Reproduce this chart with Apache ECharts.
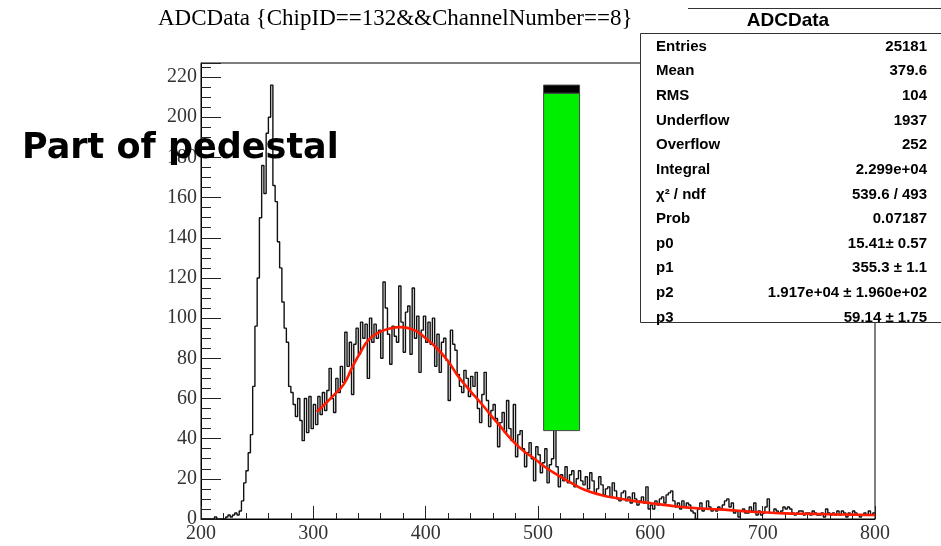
<!DOCTYPE html>
<html>
<head>
<meta charset="utf-8">
<script src="https://cdn.jsdelivr.net/npm/echarts@6/dist/echarts.min.js"></script>
<style>
  html, body { margin: 0; padding: 0; background: #fff; }
  #chart { width: 941px; height: 546px; }
</style>
</head>
<body>
<div id="chart"></div>
<script>
// histogram: 2 ADC wide bins from 200 to 800
const binStart = 200;
const binWidth = 2;
const counts = [
  0, 0, 0, 0, 0, 0, 1, 0, 0, 0,          // 200-218
  0, 1, 2, 1, 2, 3, 2, 4, 9, 18,         // 220-238
  24, 33, 42, 66, 96, 120, 150, 176, 162, 192,
  200, 216, 166, 158, 138, 125, 108, 95, 88, 66,
  63, 57, 51, 60, 49, 39, 60, 43, 61, 45,
  57, 47, 61, 52, 63, 54, 64, 75, 60, 53, // 300-318
  70, 63, 76, 68, 93, 76, 88, 62, 87, 95,
  82, 98, 90, 97, 70, 100, 88, 97, 90, 94,
  80, 118, 105, 92, 77, 96, 91, 88, 116, 98,
  83, 103, 106, 82, 115, 90, 101, 73, 94, 101,
  88, 98, 87, 100, 76, 92, 73, 88, 90, 79, // 400-418
  59, 94, 87, 84, 72, 66, 63, 74, 70, 61,
  71, 66, 73, 55, 48, 62, 73, 59, 46, 54,
  57, 50, 36, 48, 53, 43, 59, 45, 39, 57,
  31, 42, 44, 35, 26, 33, 38, 30, 19, 36,
  32, 23, 28, 35, 18, 27, 30, 46, 26, 16, // 500-518
  22, 19, 26, 18, 22, 24, 16, 20, 24, 19,
  17, 21, 15, 23, 19, 13, 15, 21, 17, 12,
  15, 16, 11, 18, 14, 10, 9, 13, 14, 9,
  11, 8, 13, 10, 7, 9, 11, 8, 16, 5,
  7, 5, 9, 7, 10, 11, 8, 12, 13, 14,      // 600-618
  9, 6, 8, 5, 9, 6, 8, 7, 4, 3,
  0, 5, 8, 4, 5, 9, 6, 4, 5, 4,
  6, 5, 7, 9, 10, 6, 8, 3, 4, 1,
  4, 5, 3, 3, 6, 4, 8, 2, 4, 2,
  3, 6, 10, 3, 3, 5, 4, 3, 4, 6,          // 700-718
  5, 6, 5, 3, 2, 3, 4, 4, 2, 3,
  3, 2, 4, 3, 2, 2, 3, 1, 5, 3,
  2, 3, 2, 4, 2, 4, 3, 1, 3, 2,
  4, 3, 2, 1, 2, 3, 2, 4, 2, 3
];

// fitted curve
const fitX = [303, 310, 318, 327, 335, 342, 349, 358, 368, 377, 388, 400, 410, 420, 429, 437,
  444, 451, 459, 466, 474, 481, 488, 497, 506, 515, 528, 542, 556, 572, 586, 601, 616, 631,
  646, 661, 676, 690, 705, 720, 735, 750, 765, 780, 795, 800];
const fitY = [53.4, 57, 61.5, 67, 76, 83, 89, 92.8, 94.8, 95.5, 94.5, 90, 85, 78.5, 71, 65.5,
  61, 56.5, 51, 46.5, 41, 37, 33.5, 30, 26, 22.7, 18.5, 14.4, 12, 10.2, 8.9, 7.8, 6.8, 5.8,
  5.2, 4.8, 4.2, 3.6, 3.2, 2.8, 2.6, 2.5, 2.3, 2.2, 2.0, 2.0];

// green overlay box and its dark cap: [x0, y0, x1, y1]
const boxGreen = [505, 44, 537, 212];
const boxCap = [505, 212, 537, 216];

const statNames = ['Entries', 'Mean', 'RMS', 'Underflow', 'Overflow', 'Integral',
  'χ² / ndf', 'Prob', 'p0', 'p1', 'p2', 'p3'];
const statValues = ['25181', '379.6', '104', '1937', '252', '2.299e+04',
  '539.6 / 493', '0.07187', '15.41± 0.57', '355.3 ± 1.1', '1.917e+04 ± 1.960e+02', '59.14 ± 1.75'];

const histData = counts.map((c, i) => [binStart + i * binWidth, c]);
histData.push([binStart + counts.length * binWidth, counts[counts.length - 1]]);
const fitData = fitX.map((x, i) => [x, fitY[i]]);

const chart = echarts.init(document.getElementById('chart'));

const serif = 'Liberation Serif';

const statsGraphics = [];
statsGraphics.push({ type: 'rect', z: 100, shape: { x: 640.5, y: 33.5, width: 310, height: 289 },
  style: { fill: '#fff', stroke: '#333', lineWidth: 1 } });
statsGraphics.push({ type: 'rect', z: 100, shape: { x: 688, y: 8.5, width: 260, height: 25 },
  style: { fill: '#fff', stroke: null } });
statsGraphics.push({ type: 'line', z: 101, shape: { x1: 688, y1: 8.5, x2: 941, y2: 8.5 },
  style: { stroke: '#333', lineWidth: 1 } });
statsGraphics.push({ type: 'line', z: 101, shape: { x1: 688, y1: 33.5, x2: 941, y2: 33.5 },
  style: { stroke: '#333', lineWidth: 1 } });
statsGraphics.push({ type: 'text', z: 102, x: 788, y: 21,
  style: { text: 'ADCData', fill: '#000', font: 'bold 19px "Liberation Sans"', align: 'center', verticalAlign: 'middle' } });
statNames.forEach((name, i) => {
  const y = 46.5 + i * 24.65;
  statsGraphics.push({ type: 'text', z: 102, x: 656, y: y,
    style: { text: name, fill: '#000', font: 'bold 15px "Liberation Sans"', align: 'left', verticalAlign: 'middle' } });
  statsGraphics.push({ type: 'text', z: 102, x: 927, y: y,
    style: { text: statValues[i], fill: '#000', font: 'bold 15px "Liberation Sans"', align: 'right', verticalAlign: 'middle' } });
});

const option = {
  animation: false,
  backgroundColor: '#fff',
  title: {
    text: 'ADCData {ChipID==132&&ChannelNumber==8}',
    left: 158,
    top: 7,
    padding: 0,
    textStyle: { fontFamily: serif, fontSize: 23, fontWeight: 'normal', color: '#000' }
  },
  grid: {
    left: 201, right: 66, top: 63, bottom: 27,
    show: true, borderColor: '#000', borderWidth: 1, backgroundColor: 'transparent'
  },
  xAxis: {
    type: 'value',
    min: 200, max: 800, interval: 100,
    axisLine: { lineStyle: { color: '#000', width: 1 } },
    axisTick: { inside: true, length: 13, lineStyle: { color: '#222' } },
    minorTick: { show: true, splitNumber: 5, length: 6, lineStyle: { color: '#222' } },
    splitLine: { show: false },
    axisLabel: { fontFamily: serif, fontSize: 20, color: '#333', margin: 5 }
  },
  yAxis: {
    type: 'value',
    min: 0, max: 227, interval: 20,
    axisLine: { show: true, lineStyle: { color: '#000', width: 1 } },
    axisTick: { show: true, inside: true, length: 20, lineStyle: { color: '#222' } },
    minorTick: { show: true, splitNumber: 4, length: 10, lineStyle: { color: '#222' } },
    splitLine: { show: false },
    axisLabel: { fontFamily: serif, fontSize: 20, color: '#333', margin: 4, showMaxLabel: false }
  },
  series: [
    {
      name: 'ADCData',
      type: 'line',
      step: 'end',
      data: histData,
      symbol: 'none',
      z: 2,
      lineStyle: { color: '#111', width: 1.4 }
    },
    {
      name: 'fit',
      type: 'line',
      data: fitData,
      smooth: true,
      symbol: 'none',
      z: 3,
      lineStyle: { color: '#ff1a00', width: 2.6 }
    },
    {
      name: 'box',
      type: 'custom',
      z: 4,
      data: [
        { value: boxGreen, itemStyle: { color: '#00ee00' } },
        { value: boxCap, itemStyle: { color: '#000' } }
      ],
      renderItem: (params, api) => {
        const a = api.coord([api.value(0), api.value(3)]);
        const b = api.coord([api.value(2), api.value(1)]);
        return {
          type: 'rect',
          shape: { x: a[0], y: a[1], width: b[0] - a[0], height: b[1] - a[1] },
          style: api.style({ stroke: '#444', lineWidth: 1 })
        };
      }
    }
  ],
  graphic: statsGraphics.concat([
    {
      type: 'text', z: 110, x: 22, y: 149,
      style: { text: 'Part of pedestal', fill: '#000', font: 'bold 35px "DejaVu Sans"', align: 'left', verticalAlign: 'middle' }
    }
  ])
};

chart.setOption(option);
</script>
</body>
</html>
